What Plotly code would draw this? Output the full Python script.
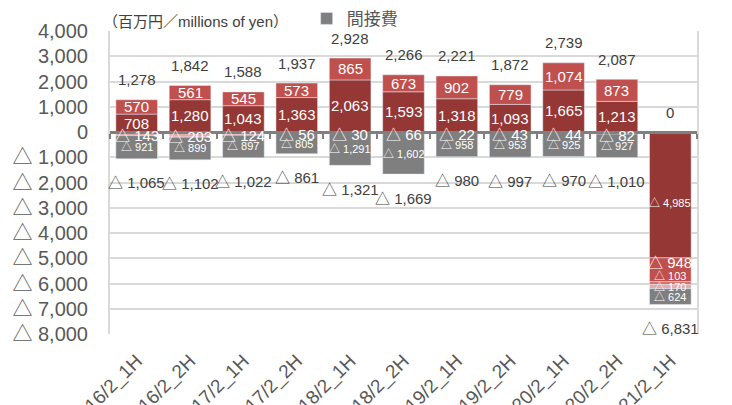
import plotly.graph_objects as go

CATEGORIES = ["16/2_1H", "16/2_2H", "17/2_1H", "17/2_2H", "18/2_1H", "18/2_2H",
              "19/2_1H", "19/2_2H", "20/2_1H", "20/2_2H", "21/2_1H"]

DARK_VALUES = [708, 1280, 1043, 1363, 2063, 1593, 1318, 1093, 1665, 1213, -4985]
LIGHT_VALUES = [570, 561, 545, 573, 865, 673, 902, 779, 1074, 873, -948]
MID_VALUES = [None] * 10 + [-103]
PINK_VALUES = [-143, -203, -124, -56, -30, -66, -22, -43, -44, -82, -170]
INDIRECT_VALUES = [-921, -899, -897, -805, -1291, -1602, -958, -953, -925, -927, -624]

POS_TOTALS = [1278, 1842, 1588, 1937, 2928, 2266, 2221, 1872, 2739, 2087, 0]
NEG_TOTALS = [-1065, -1102, -1022, -861, -1321, -1669, -980, -997, -970, -1010, -6831]

Y_TICKS = [4000, 3000, 2000, 1000, 0, -1000, -2000, -3000, -4000, -5000, -6000, -7000, -8000]

TEXT = "#595959"
FONT = "Liberation Sans, Noto Sans CJK JP, sans-serif"

# name, values, colour, label sizes, label nudge (px) [other bars, last bar], in legend
SERIES = [
    ("dark", DARK_VALUES, "#953735", [15] * 10 + [11], (0, -8), False),
    ("light", LIGHT_VALUES, "#C0504D", [15] * 11, (0, 7), False),
    ("mid", MID_VALUES, "#D2625F", [11] * 11, (0, 7), False),
    ("pink", PINK_VALUES, "#E3ABAA", [15] * 10 + [11], (-2, 0), False),
    ("間接費", INDIRECT_VALUES, "#7F7F7F", [11] * 11, (0, 0), True),
]


def fmt(v):
    if v is None:
        return ""
    return f"{v:,}" if v >= 0 else f"△ {-v:,}"


fig = go.Figure()
for name, values, color, _, _, legend in SERIES:
    fig.add_trace(go.Bar(x=CATEGORIES, y=values, name=name, marker_color=color,
                         showlegend=legend, hoverinfo="skip"))

# invisible trace that carries the zero-level category axis (line + ticks)
fig.add_trace(go.Scatter(x=CATEGORIES, y=POS_TOTALS, xaxis="x2", mode="markers",
                         marker=dict(opacity=0), showlegend=False, hoverinfo="skip"))

# segment labels as annotations so they sit above every bar
pos_base = [0] * len(CATEGORIES)
neg_base = [0] * len(CATEGORIES)
last = len(CATEGORIES) - 1
for name, values, color, sizes, nudge, _ in SERIES:
    for i, v in enumerate(values):
        if v is None:
            continue
        if v >= 0:
            mid = pos_base[i] + v / 2
            pos_base[i] += v
        else:
            mid = neg_base[i] + v / 2
            neg_base[i] += v
        fig.add_annotation(x=CATEGORIES[i], y=mid, text=fmt(v), showarrow=False,
                           yshift=nudge[1] if i == last else nudge[0],
                           font=dict(size=sizes[i], color="white", family=FONT))

for c, p, n in zip(CATEGORIES, POS_TOTALS, NEG_TOTALS):
    fig.add_annotation(x=c, y=p, text=fmt(p), showarrow=False, yshift=20,
                       font=dict(size=15, color="#404040", family=FONT))
    fig.add_annotation(x=c, y=n, text=fmt(n), showarrow=False, yshift=-24,
                       font=dict(size=15, color="#404040", family=FONT))

fig.add_annotation(xref="paper", yref="paper", x=-0.015, y=1.03, xanchor="left",
                   yanchor="middle", text="（百万円／millions of yen）", showarrow=False,
                   font=dict(size=15, color="#404040", family=FONT))

fig.update_layout(
    width=724, height=397,
    paper_bgcolor="white", plot_bgcolor="white",
    margin=dict(l=102, r=35, t=23, b=71, autoexpand=False),
    barmode="relative", bargap=0.22,
    font=dict(family=FONT, color=TEXT),
    legend=dict(x=0.335, y=1.04, xanchor="left", yanchor="middle",
                font=dict(size=17, color=TEXT), bgcolor="rgba(0,0,0,0)"),
    xaxis=dict(type="category", categoryorder="array", categoryarray=CATEGORIES,
               range=[-0.5, 10.5], tickangle=-45, showgrid=False, showline=False,
               tickfont=dict(size=19, color=TEXT), ticks="", automargin=False,
               ticklabelstandoff=11),
    xaxis2=dict(type="category", categoryorder="array", categoryarray=CATEGORIES,
                range=[-0.5, 10.5], overlaying="x", anchor="free", position=8000 / 12000,
                showline=True, linecolor="#808080", linewidth=3, ticks="outside",
                tickson="boundaries", ticklen=5, tickwidth=2, tickcolor="#808080",
                showticklabels=False, showgrid=False),
    yaxis=dict(range=[-8000, 4000], tickvals=Y_TICKS, ticktext=[fmt(v) for v in Y_TICKS],
               showgrid=True, gridcolor="#D9D9D9", gridwidth=1.5, zeroline=False,
               showline=True, linecolor="#D9D9D9", linewidth=2, mirror=True,
               tickfont=dict(size=20, color=TEXT), ticks="", automargin=False,
               ticklabelstandoff=16),
)

fig.write_html("out.html")
